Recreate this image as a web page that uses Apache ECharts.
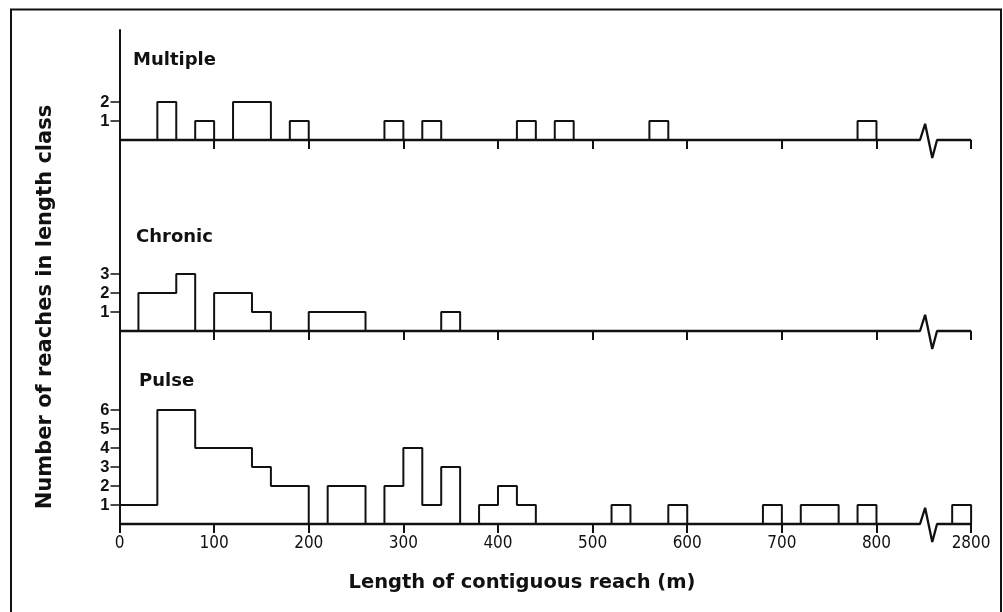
<!DOCTYPE html>
<html>
<head>
<meta charset="utf-8">
<script src="https://cdn.jsdelivr.net/npm/echarts@6/dist/echarts.min.js"></script>
<style>
html,body{margin:0;padding:0;background:#fff;}
#chart{width:1003px;height:612px;}
</style>
</head>
<body>
<div id="chart"></div>
<script>
// ---------- data ----------
const binWidth = 20;                       // m, width of each length class
const binStarts = Array.from({length: 40}, (_, i) => i * binWidth); // 0..780
const beyondBinStart = 2780;               // class 2780-2800 shown after the axis break

const multipleCounts = [0,0,2,0,1,0,2,2,0,1, 0,0,0,0,1,0,1,0,0,0, 0,1,0,1,0,0,0,0,1,0, 0,0,0,0,0,0,0,0,0,1];
const multipleBeyond = 0;
const chronicCounts  = [0,2,2,3,0,2,2,1,0,0, 1,1,1,0,0,0,0,1,0,0, 0,0,0,0,0,0,0,0,0,0, 0,0,0,0,0,0,0,0,0,0];
const chronicBeyond  = 0;
const pulseCounts    = [1,1,6,6,4,4,4,3,2,2, 0,2,2,0,2,4,1,3,0,1, 2,1,0,0,0,0,1,0,0,1, 0,0,0,0,1,0,1,1,0,1];
const pulseBeyond    = 1;

const panelNames = ['Multiple', 'Chronic', 'Pulse'];
const yTickValues = [[1, 2], [1, 2, 3], [1, 2, 3, 4, 5, 6]];
const xTickValues = [0, 100, 200, 300, 400, 500, 600, 700, 800, 2800];
const xTickLabels = ['0', '100', '200', '300', '400', '500', '600', '700', '800', '2800'];
const yTitle = 'Number of reaches in length class';
const xTitle = 'Length of contiguous reach (m)';

// ---------- axis break (800 .. 2800) ----------
const breakLo = 846, breakHi = 2764, breakGap = 18;
function toDisplay(v) { return v <= breakLo ? v : v - (breakHi - breakLo - breakGap); }
const xMaxDisplay = toDisplay(2800);

function stepData(counts) {
  const d = binStarts.map((s, i) => [s, counts[i]]);
  d.push([binStarts[binStarts.length - 1] + binWidth, 0]);
  return d;
}
function beyondData(c) {
  return [[breakLo + breakGap, 0], [toDisplay(beyondBinStart), c], [toDisplay(beyondBinStart + binWidth), 0]];
}
const baselineData = [
  [0, 0], [breakLo, 0],
  [breakLo + breakGap * 0.3, 0.85],
  [breakLo + breakGap * 0.72, -0.95],
  [breakLo + breakGap, 0], [xMaxDisplay, 0]
];

// ---------- layout ----------
const unitPx = 19;
const gridLeft = 119.5, gridWidth = 851.6;
const panels = [
  { top: 30,  height: 110, counts: multipleCounts, beyond: multipleBeyond },
  { top: 140, height: 191, counts: chronicCounts,  beyond: chronicBeyond },
  { top: 331, height: 193, counts: pulseCounts,    beyond: pulseBeyond }
];
const titlePos = [[133, 60], [136, 237], [139, 381]];
const ink = '#111';

const grid = [], xAxis = [], yAxis = [], series = [];
panels.forEach((p, k) => {
  grid.push({ left: gridLeft, top: p.top, width: gridWidth, height: p.height, containLabel: false });
  xAxis.push({
    type: 'value', gridIndex: k, min: 0, max: xMaxDisplay,
    axisLine: { show: false }, splitLine: { show: false },
    axisTick: { show: true, customValues: xTickValues.map(toDisplay), length: 9, lineStyle: { color: ink, width: 2 } },
    axisLabel: {
      show: k === 2, customValues: xTickValues.map(toDisplay), margin: 11,
      fontFamily: '"DejaVu Sans Condensed", "Liberation Sans Narrow", sans-serif', fontSize: 17, color: ink,
      formatter: v => { const i = xTickValues.map(toDisplay).indexOf(v); return i >= 0 ? xTickLabels[i] : ''; }
    }
  });
  yAxis.push({
    type: 'value', gridIndex: k, min: 0, max: p.height / unitPx,
    axisLine: { show: true, lineStyle: { color: ink, width: 2 } },
    splitLine: { show: false },
    axisTick: { show: true, customValues: yTickValues[k], length: 9, lineStyle: { color: ink, width: 1.5 } },
    axisLabel: {
      customValues: yTickValues[k], margin: 10, color: ink,
      fontFamily: '"Liberation Sans", Arial, sans-serif', fontWeight: 'bold', fontSize: 16.5
    }
  });
  const common = { type: 'line', xAxisIndex: k, yAxisIndex: k, symbol: 'none', clip: false, silent: true,
                   lineStyle: { color: ink, width: 2 }, animation: false };
  series.push(Object.assign({ name: panelNames[k], step: 'end', data: stepData(p.counts) }, common));
  series.push(Object.assign({ name: panelNames[k] + ' 2800', step: 'end', data: beyondData(p.beyond) }, common));
  series.push(Object.assign({ name: panelNames[k] + ' axis', data: baselineData }, common,
                            { lineStyle: { color: ink, width: 2.3 } }));
});

const graphic = [
  { type: 'rect', shape: { x: 11, y: 9.5, width: 990, height: 640 }, style: { fill: 'none', stroke: ink, lineWidth: 2 }, silent: true },
  { type: 'text', x: 46, y: 307, rotation: Math.PI / 2,
    style: { text: yTitle, fill: ink, font: 'bold 21px "DejaVu Sans", sans-serif', align: 'center', verticalAlign: 'middle' } },
  { type: 'text', x: 522, y: 583,
    style: { text: xTitle, fill: ink, font: 'bold 19.5px "DejaVu Sans", sans-serif', align: 'center', verticalAlign: 'middle' } }
];
panelNames.forEach((n, k) => {
  graphic.push({ type: 'text', x: titlePos[k][0], y: titlePos[k][1],
    style: { text: n, fill: ink, font: 'bold 18px "DejaVu Sans", sans-serif', align: 'left', verticalAlign: 'middle' } });
});

const chart = echarts.init(document.getElementById('chart'));
chart.setOption({ animation: false, backgroundColor: '#fff', grid, xAxis, yAxis, series, graphic });
</script>
</body>
</html>
